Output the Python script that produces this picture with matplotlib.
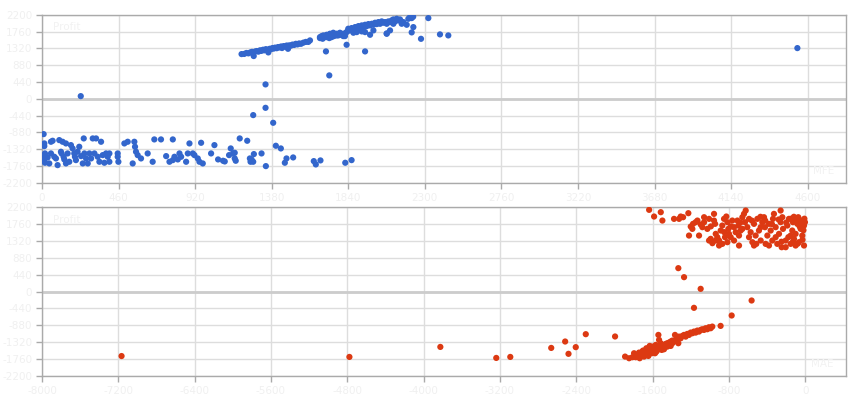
import numpy as np
import matplotlib
matplotlib.use("Agg")
import matplotlib.pyplot as plt

# MFE vs Profit (top panel)
mfe_x = [
    10, 14, 14, 18, 18, 14, 18, 34, 44, 54, 64, 54, 74, 84, 94, 104, 114, 118, 124, 130,
    134, 144, 144, 154, 164, 174, 184, 194, 198, 204, 214, 224, 235, 245, 251, 255, 265, 275, 285, 295,
    305, 315, 325, 335, 345, 355, 365, 375, 385, 395, 405, 405, 455, 455, 459, 495, 515, 545, 555, 559,
    565, 575, 595, 635, 665, 675, 715, 746, 766, 786, 786, 796, 816, 826, 836, 866, 876, 886, 906, 916,
    936, 946, 956, 966, 1016, 1036, 1058, 1088, 1098, 1124, 1134, 1148, 1158, 1158, 1164, 1188, 1233, 1249, 1253, 1259,
    1269, 1273, 1319, 1345, 1389, 1405, 1435, 1459, 1469, 1509, 1633, 1645, 1673, 1822, 1860, 233,
    1269, 1343, 1343, 1726,
    1199, 1215, 1228, 1240, 1252, 1262, 1272, 1280, 1290, 1300, 1310, 1318, 1328, 1336, 1345, 1352, 1360, 1368, 1376, 1385,
    1392, 1400, 1410, 1418, 1426, 1436, 1442, 1452, 1460, 1470, 1478, 1486, 1495, 1505, 1515, 1525, 1535, 1545, 1556, 1570,
    1585, 1600, 1610,
    1670, 1680, 1690, 1700, 1710, 1720, 1730, 1740, 1750, 1760, 1770, 1780, 1790, 1800, 1810, 1820, 1830, 1706, 1941,
    1840, 1850, 1860, 1871, 1881, 1891, 1901, 1911, 1921, 1931, 1941, 1951, 1961, 1971, 1981, 1991, 2001, 2011, 2021, 2031,
    2041, 2051, 2061, 2071, 2081, 2091, 2101, 2111, 2121, 2131, 2141, 2151, 2161, 2171, 2191, 2211, 2221, 2201, 2231, 2071,
    2091, 2111, 1921, 1941, 1971, 1991, 1871, 1891, 1670, 1686, 1710, 1726, 1740, 1754, 1770, 1786, 1800, 1810, 1826, 1834,
    2277, 2321, 2391, 2441, 2221, 2230, 2071, 2221, 4538,
]
mfe_y = [
    -925, -1169, -1239, -1431, -1501, -1588, -1675, -1536, -1693, -1125, -1099, -1431, -1518, -1562, -1737, -1082, -1387, -1431, -1125, -1518,
    -1588, -1693, -1169, -1431, -1649, -1213, -1300, -1431, -1518, -1606, -1387, -1256, -1501, -1693, -1038, -1431, -1562, -1693, -1431, -1562,
    -1038, -1431, -1038, -1518, -1649, -1125, -1475, -1675, -1431, -1518, -1649, -1431, -1431, -1518, -1649, -1169, -1125, -1693, -1125, -1256,
    -1387, -1475, -1562, -1431, -1649, -1064, -1064, -1501, -1649, -1064, -1606, -1518, -1588, -1431, -1518, -1649, -1431, -1169, -1431, -1475,
    -1562, -1649, -1152, -1693, -1431, -1213, -1588, -1623, -1641, -1475, -1300, -1431, -1414, -1562, -1623, -1038, -1099, -1562, -1649, -1588,
    -1649, -1448, -1431, -1763, -628, -1230, -1300, -1675, -1562, -1536, -1632, -1719, -1614, -1675, -1606, 70,
    -427, 377, -236, 613,
    1171, 1175, 1200, 1190, 1215, 1230, 1120, 1238, 1250, 1235, 1270, 1255, 1285, 1270, 1300, 1280, 1215, 1310, 1300, 1330,
    1315, 1340, 1325, 1355, 1345, 1370, 1330, 1380, 1365, 1395, 1310, 1400, 1390, 1420, 1410, 1440, 1425, 1450, 1440, 1470,
    1490, 1490, 1529,
    1616, 1642, 1660, 1616, 1677, 1642, 1704, 1660, 1730, 1677, 1704, 1660, 1730, 1677, 1704, 1642, 1415, 1241, 1241,
    1835, 1791, 1852, 1817, 1878, 1835, 1904, 1852, 1922, 1878, 1939, 1904, 1957, 1922, 1965, 1939, 1992, 1957, 2009, 1965,
    2027, 1992, 2009, 1965, 2027, 2009, 2053, 2079, 2027, 2096, 2053, 2079, 1965, 2009, 1939, 2140, 2114, 2096, 1878, 1704,
    1791, 1965, 1765, 1747, 1677, 1791, 1730, 1747, 1590, 1573, 1616, 1590, 1616, 1642, 1660, 1677, 1695, 1642, 1730, 1765,
    1571, 2114, 1687, 1660, 2148, 2150, 1712, 1739, 1328,
]

# MAE vs Profit (bottom panel)
mae_x = [
    -7166, -4778, -3825, -3239, -3092, -2663, -2517, -2482, -2406, -2301, -1994,
    -772, -563, -1167, -1097, -1271, -1331,
    -1889, -1847, -1812, -1795, -1778, -1760, -1743, -1736, -1725, -1708, -1690, -1673, -1655, -1645, -1638, -1620, -1610, -1603, -1586, -1575,
    -1568, -1551, -1540, -1533, -1533, -1516, -1505, -1498, -1481, -1463, -1446, -1429, -1411, -1394, -1376, -1366, -1359, -1341, -1331, -1324,
    -1306, -1289, -1271, -1254, -1237, -1219, -1202, -1184, -1167, -1149, -1132, -1114, -1097, -1080, -1062, -1045, -1027, -1010, -992, -975,
    -888, -1778, -1743, -1708, -1673, -1638, -1603, -1568, -1533, -1498, -1463, -1429, -1394, -1701, -1666, -1631, -1596, -1561, -1481, -1446,
    -1411,
    -1637, -1585, -1515, -1498, -1376, -1323, -1306, -1281, -1226, -1201, -1177, -1149, -1131, -1096, -1079, -1061, -1061, -1219, -1027, -1009,
    -992, -974, -957, -957, -946, -939, -922, -904, -904, -887, -870, -852, -842, -828, -817, -807, -800, -782, -765, -747,
    -730, -712, -702, -695, -695, -678, -660, -643, -632, -625, -608, -590, -590, -573, -555, -538, -521, -514, -503, -486,
    -468, -451, -433, -423, -416, -398, -381, -363, -346, -339, -329, -311, -294, -276, -259, -259, -248, -241, -234, -206,
    -189, -178, -172, -154, -137, -130, -119, -102, -84, -74, -67, -49, -39, -32, -14, -14, -4, -49, -102, -154,
    -206, -311, -381, -468, -538, -660, -747, -817, -870, -939, -1009, -1114, -1184,
    -100, -60, -20, -150, -200, -280, -350, -420, -30, -80, -130, -250, -10, -120, -470, -560, -680, -780, -850, -990,
]
mae_y = [
    -1680, -1703, -1442, -1729, -1703, -1468, -1301, -1622, -1448, -1110, -1170,
    -623, -232, -423, 72, 376, 611,
    -1694, -1737, -1711, -1607, -1650, -1694, -1590, -1737, -1650, -1564, -1694, -1607, -1520, -1677, -1564, -1477, -1607, -1433, -1520, -1607,
    -1390, -1477, -1129, -1259, -1433, -1346, -1520, -1477, -1390, -1433, -1346, -1390, -1303, -1346, -1303, -1129, -1259, -1216, -1346, -1173,
    -1216, -1155, -1129, -1173, -1103, -1129, -1068, -1086, -1042, -1068, -1016, -1042, -999, -981, -999, -955, -981, -929, -955, -912,
    -894, -1711, -1677, -1650, -1564, -1503, -1564, -1520, -1503, -1433, -1364, -1329, -1277, -1537, -1477, -1416, -1451, -1564, -1503, -1433,
    -1416,
    2131, 1957, 2070, 1852, 1896, 1896, 1957, 1939, 2044, 1696, 1766, 1809, 1852, 1748, 1679, 1939, 1809, 1461, 1635, 1331,
    1375, 1262, 2026, 1852, 1766, 1505, 1418, 1331, 1201, 1592, 1722, 1896, 1418, 1957, 1809, 1635, 1505, 1418, 1852, 1679,
    1548, 1852, 1722, 1461, 1201, 1592, 1939, 2026, 1809, 2113, 1679, 1418, 1896, 1548, 1288, 1766, 1461, 1244, 1896, 1592,
    1331, 1809, 1939, 1679, 1244, 1461, 1766, 1592, 1331, 1896, 2026, 1679, 1244, 1505, 1809, 2113, 1157, 1939, 1635, 1331,
    1722, 1418, 1896, 1244, 1592, 1809, 1375, 1505, 1766, 1939, 1288, 1635, 1852, 1461, 1722, 1201, 1809, 1809, 1201, 1461,
    1157, 1418, 1201, 1679, 1201, 1635, 1331, 1288, 1244, 1331, 1896, 1461, 1635,
    1850, 1700, 1600, 1900, 1800, 1880, 1760, 1850, 1350, 1250, 1300, 1300, 1900, 1950, 1950, 1850, 1800, 1700, 1550, 1700,
]

y_ticks = [-2200, -1760, -1320, -880, -440, 0, 440, 880, 1320, 1760, 2200]
mfe_ticks = [0, 460, 920, 1380, 1840, 2300, 2760, 3220, 3680, 4140, 4600]
mae_ticks = [-8000, -7200, -6400, -5600, -4800, -4000, -3200, -2400, -1600, -800, 0]

BLUE = "#3366cc"
RED = "#dc3912"
FAINT = "#f0f0f0"


def style_axes(ax, xticks, xlim, corner_label):
    ax.set_ylim(-2200, 2200)
    ax.set_xlim(*xlim)
    ax.set_yticks(y_ticks)
    ax.set_xticks(xticks)
    ax.set_yticklabels([str(t) for t in y_ticks])
    ax.set_xticklabels([str(t) for t in xticks])
    ax.grid(True, color="#dddddd", linewidth=1)
    ax.axhline(0, color="#cccccc", linewidth=2, zorder=1)
    ax.set_axisbelow(True)
    for sp in ax.spines.values():
        sp.set_color("#aaaaaa")
        sp.set_linewidth(1)
    ax.tick_params(axis="both", colors="#aaaaaa", labelcolor=FAINT,
                   labelsize=7.5, length=4, width=1, pad=3)
    ax.text(0.014, 0.955, "Profit", transform=ax.transAxes, color="#f2f2f2",
            fontsize=7.5, ha="left", va="top")
    ax.text(0.985, 0.04, corner_label, transform=ax.transAxes, color="#f2f2f2",
            fontsize=7.5, ha="right", va="bottom")


fig = plt.figure(figsize=(8.6, 4.0), dpi=100)
ax1 = fig.add_axes([0.0488, 0.543, 0.9349, 0.420])
ax2 = fig.add_axes([0.0488, 0.060, 0.9349, 0.422])

ax1.scatter(mfe_x, mfe_y, s=20, color=BLUE, edgecolors="none", zorder=3)
ax2.scatter(mae_x, mae_y, s=20, color=RED, edgecolors="none", zorder=3)

style_axes(ax1, mfe_ticks, (0, 4830), "MFE")
style_axes(ax2, mae_ticks, (-8000, 426), "MAE")

fig.savefig("out.png", dpi=100, facecolor="white")
